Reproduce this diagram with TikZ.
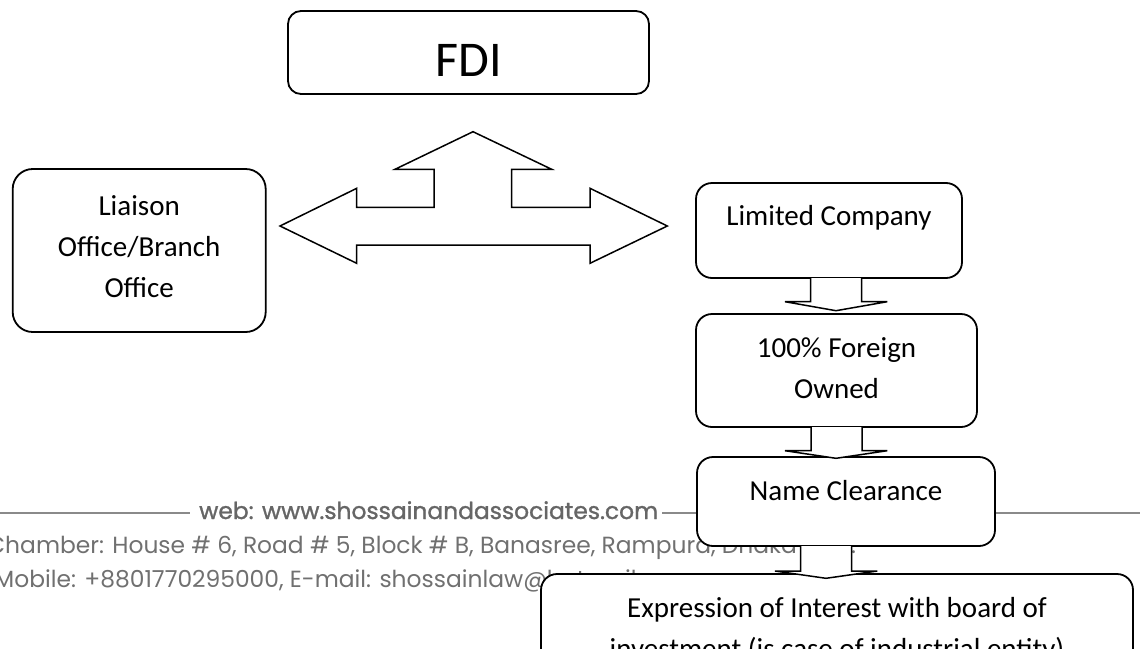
\documentclass[tikz,border=0pt]{standalone}
\usepackage{fontspec}
\setmainfont{Carlito}
\newfontfamily\wmfont{Poppins}
\newfontfamily\wmboldfont[FakeBold=1.2]{Poppins}
\usetikzlibrary{calc}
\definecolor{wmdark}{HTML}{666666}
\definecolor{wmgray}{HTML}{707070}
\definecolor{rulegray}{HTML}{8A8A8A}
\newlength\wmw
\begin{document}
\settowidth\wmw{\wmfont\fontsize{20}{24}\selectfont web: www.shossainandassociates.com}%
\pgfmathsetmacro\wmsize{20*459/\wmw}%
\begin{tikzpicture}[x=1pt,y=-1pt,
  box/.style={draw=black, line width=1.8pt, rounded corners=16pt, fill=white, inner sep=0pt},
  blk/.style={draw=black, line width=1.5pt, fill=white, line join=miter},
  lbl/.style={font=\fontsize{29}{41}\selectfont, anchor=base, inner sep=0pt},
  rule/.style={draw=rulegray, line width=1.8pt},
  wm/.style={font=\wmfont\fontsize{\wmsize}{\wmsize}\selectfont, anchor=base west, inner sep=0pt}]
\useasboundingbox (0,0) rectangle (1140,648);
\clip (0,0) rectangle (1140,648);
% watermark letterhead
\node[wm, text=wmdark, font=\wmboldfont\fontsize{\wmsize}{\wmsize}\selectfont] (web) at (199,519) {web: www.shossainandassociates.com};
\draw[rule] (0,513) -- (190,513);
\draw[rule] (662,513) -- (1140,513);
\node[wm, text=wmgray] (addr) at (-13,553) {Chamber: House \# 6, Road \# 5, Block \# B, Banasree, Rampura, Dhaka-1217.};
\node[wm, text=wmgray] (mob) at (-6,587) {Mobile: +8801770295000, E-mail: shossainlaw@hotmail.com};
% boxes
\node[box, rounded corners=13pt, minimum width=361pt, minimum height=83pt] (fdi) at (468.5,52.5) {};
\node[anchor=base, inner sep=0pt, font=\fontsize{50}{60}\selectfont] (fdit) at (469,76) {FDI};
\node[box, rounded corners=20pt, minimum width=253pt, minimum height=163pt] (lo) at (139.2,250.5) {};
\node[lbl] (lot) at (139.2,215) {\begin{tabular}[t]{@{}c@{}}Liaison\\Office/Branch\\Office\end{tabular}};
\node[box, minimum width=266pt, minimum height=95pt] (lim) at (829,230.5) {};
\node[lbl] (limt) at (829,225) {Limited Company};
\node[box, minimum width=281pt, minimum height=113pt] (fo) at (836.5,370.5) {};
\node[lbl] (fot) at (836.5,357) {\begin{tabular}[t]{@{}c@{}}100\% Foreign\\Owned\end{tabular}};
\node[box, minimum width=298pt, minimum height=89pt] (nc) at (846,501.5) {};
\node[lbl] (nct) at (846,500) {Name Clearance};
\node[box, minimum width=592pt, minimum height=126pt] (ex) at (837,637) {};
\node[lbl] (ext) at (837,617) {\begin{tabular}[t]{@{}c@{}}Expression of Interest with board of\\investment (is case of industrial entity)\end{tabular}};
% three-way block arrow
\draw[blk] (280,226) -- (356.7,188.3) -- (356.7,207.3) -- (434,207.3) -- (434,169.3)
  -- (395,169.3) -- (473,131.7) -- (551.7,169.3) -- (511.7,169.3) -- (511.7,207.3)
  -- (590,207.3) -- (590,188.3) -- (667.3,226) -- (590,263.3) -- (590,245)
  -- (356.7,245) -- (356.7,263.3) -- cycle;
% down block arrows
\draw[blk] (810.7,278) -- (810.7,301.7) -- (785,301.7) -- (836,310.7) -- (887.3,301.7) -- (861.7,301.7) -- (861.7,278);
\draw[blk] (811,427) -- (811,450.7) -- (785,450.7) -- (836,458.3) -- (887.3,450.7) -- (862,450.7) -- (862,427);
\draw[blk] (800.7,546) -- (800.7,571) -- (775,571) -- (826,578.3) -- (877.3,571) -- (851.7,571) -- (851.7,546);
\end{tikzpicture}
\end{document}
